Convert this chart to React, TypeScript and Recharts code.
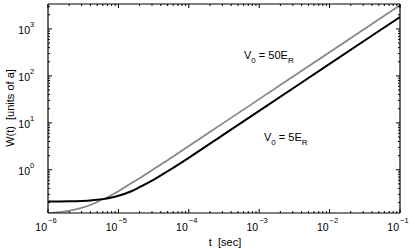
import React from 'react';
import { LineChart, Line, XAxis, YAxis } from 'recharts';

// time in seconds
const timeSec = [1e-6, 2e-6, 3e-6, 4e-6, 5e-6, 6e-6, 8e-6, 1e-5, 1.5e-5, 2e-5, 3e-5, 5e-5, 1e-4, 3e-4, 1e-3, 1e-2, 1e-1];
// W(t) for V0 = 5 E_R (black)
const widthV5 = [0.21, 0.213, 0.217, 0.222, 0.229, 0.237, 0.257, 0.28, 0.345, 0.425, 0.585, 0.93, 1.8, 5.4, 18, 180, 1800];
// W(t) for V0 = 50 E_R (gray)
const widthV50 = [0.12, 0.134, 0.154, 0.178, 0.205, 0.235, 0.29, 0.35, 0.51, 0.66, 0.98, 1.6, 3.2, 9.6, 32, 320, 3200];

const xDecades = [-6, -5, -4, -3, -2, -1];
const yDecades = [-1, 0, 1, 2, 3];
const xDomain = [1e-6, 1e-1];
const yDomain = [0.12, 3400];

const buildTicks = (decades: number[], lo: number, hi: number) => {
  const out: number[] = [];
  decades.forEach((d) => {
    for (let m = 1; m <= 9; m++) {
      const v = m * Math.pow(10, d);
      if (v >= lo * 0.999 && v <= hi * 1.001) out.push(v);
    }
  });
  return out;
};
const xTicks = buildTicks(xDecades, xDomain[0], xDomain[1]);
const yTicks = buildTicks(yDecades, yDomain[0], yDomain[1]);

const data = timeSec.map((t, i) => ({ t, v5: widthV5[i], v50: widthV50[i] }));

const FONT = '"Liberation Sans", Arial, Helvetica, sans-serif';

const decadeOf = (v: number) => {
  const l = Math.log10(v);
  const r = Math.round(l);
  return Math.abs(l - r) < 1e-6 ? r : null;
};

const BottomTick = (props: any) => {
  const { x, y, payload } = props;
  const e = decadeOf(payload.value);
  const len = e !== null ? 4 : 2;
  return (
    <g>
      <line x1={x} x2={x} y1={y} y2={y - len} stroke="#000" strokeWidth={1} />
      {e !== null && (
        <text x={x - 1} y={y + 18} fontFamily={FONT} fontSize={10.5} textAnchor="end" fill="#000">10</text>
      )}
      {e !== null && (
        <text x={x} y={y + 10} fontFamily={FONT} fontSize={7.5} fill="#000">{'\u2212' + Math.abs(e)}</text>
      )}
    </g>
  );
};

const TopTick = (props: any) => {
  const { x, y, payload } = props;
  const e = decadeOf(payload.value);
  const len = e !== null ? 4 : 2;
  return <line x1={x} x2={x} y1={y} y2={y + len} stroke="#000" strokeWidth={1} />;
};

const LeftTick = (props: any) => {
  const { x, y, payload } = props;
  const e = decadeOf(payload.value);
  const len = e !== null ? 4 : 2;
  return (
    <g>
      <line x1={x} x2={x + len} y1={y} y2={y} stroke="#000" strokeWidth={1} />
      {e !== null && e >= 0 && (
        <text x={x - 18} y={y + 5} fontFamily={FONT} fontSize={10.5} fill="#000" textAnchor="end">10</text>
      )}
      {e !== null && e >= 0 && (
        <text x={x - 18} y={y - 2} fontFamily={FONT} fontSize={7.5} fill="#000">{e}</text>
      )}
    </g>
  );
};

const RightTick = (props: any) => {
  const { x, y, payload } = props;
  const e = decadeOf(payload.value);
  const len = e !== null ? 4 : 2;
  return <line x1={x} x2={x - len} y1={y} y2={y} stroke="#000" strokeWidth={1} />;
};

export default function App() {
  return (
    <div style={{ position: 'absolute', left: 0, top: 0, width: 415, height: 249, background: '#fff' }}>
      <LineChart width={415} height={249} data={data} margin={{ top: 3, right: 14, bottom: 0, left: 0 }}>
        <XAxis
          dataKey="t"
          type="number"
          scale="log"
          domain={xDomain}
          allowDataOverflow
          ticks={xTicks}
          interval={0}
          tickSize={0}
          tickMargin={0}
          height={36}
          axisLine={{ stroke: '#000', strokeWidth: 1.2 }}
          tickLine={false}
          tick={<BottomTick />}
        />
        <XAxis
          xAxisId="top"
          dataKey="t"
          orientation="top"
          type="number"
          scale="log"
          domain={xDomain}
          allowDataOverflow
          ticks={xTicks}
          interval={0}
          tickSize={0}
          tickMargin={0}
          height={1}
          axisLine={{ stroke: '#000', strokeWidth: 1.2 }}
          tickLine={false}
          tick={<TopTick />}
        />
        <YAxis
          type="number"
          scale="log"
          domain={yDomain}
          allowDataOverflow
          ticks={yTicks}
          interval={0}
          tickSize={0}
          tickMargin={0}
          width={48}
          axisLine={{ stroke: '#000', strokeWidth: 1.2 }}
          tickLine={false}
          tick={<LeftTick />}
        />
        <YAxis
          yAxisId="right"
          orientation="right"
          type="number"
          scale="log"
          domain={yDomain}
          allowDataOverflow
          ticks={yTicks}
          interval={0}
          tickSize={0}
          tickMargin={0}
          width={1}
          axisLine={{ stroke: '#000', strokeWidth: 1.2 }}
          tickLine={false}
          tick={<RightTick />}
        />
        <Line type="monotone" dataKey="v50" stroke="#858585" strokeWidth={1.7} dot={false} isAnimationActive={false} />
        <Line type="monotone" dataKey="v5" stroke="#000" strokeWidth={2} dot={false} isAnimationActive={false} />
        <text x={225} y={246} fontFamily={FONT} fontSize={11} textAnchor="middle" fill="#000" style={{ whiteSpace: 'pre' }}>
          {'t  [sec]'}
        </text>
        <text
          x={14}
          y={108}
          fontFamily={FONT}
          fontSize={11}
          textAnchor="middle"
          fill="#000"
          transform="rotate(-90 14 108)"
          style={{ whiteSpace: 'pre' }}
        >
          {'W(t)  [units of a]'}
        </text>
        <text x={244} y={59} fontFamily={FONT} fontSize={11} fill="#000">
          V<tspan dy={4} fontSize={8}>0</tspan>
          <tspan dy={-4}> = 50E</tspan>
          <tspan dy={4} fontSize={8}>R</tspan>
        </text>
        <text x={264} y={141} fontFamily={FONT} fontSize={11} fill="#000">
          V<tspan dy={4} fontSize={8}>0</tspan>
          <tspan dy={-4}> = 5E</tspan>
          <tspan dy={4} fontSize={8}>R</tspan>
        </text>
      </LineChart>
    </div>
  );
}
